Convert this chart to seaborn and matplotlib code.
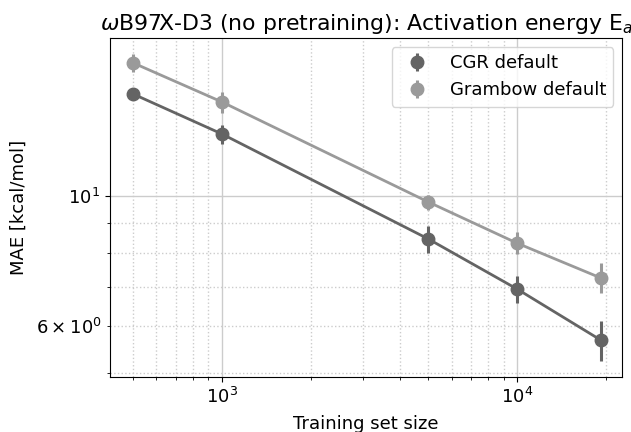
import matplotlib
matplotlib.use("Agg")
import matplotlib.pyplot as plt
import seaborn as sns
import numpy as np
import pandas as pd

train_sizes = [500, 1000, 5000, 10000, 19200]
cgr_mae = [14.93, 12.76, 8.45, 6.94, 5.68]
cgr_err = [0.25, 0.48, 0.45, 0.37, 0.45]
grambow_mae = [16.87, 14.47, 9.77, 8.31, 7.25]
grambow_err = [0.6, 0.6, 0.29, 0.36, 0.43]
series_names = ["CGR default", "Grambow default"]
colors = ["#646464", "#9a9a9a"]

df = pd.DataFrame({
    "size": train_sizes * 2,
    "mae": cgr_mae + grambow_mae,
    "model": [series_names[0]] * 5 + [series_names[1]] * 5,
})

fig = plt.figure(figsize=(6.31, 4.32), dpi=100)
ax = fig.add_axes([0.174, 0.127, 0.812, 0.785])

sns.lineplot(data=df, x="size", y="mae", hue="model", palette=colors,
             lw=2, legend=False, ax=ax)
for name, m, e, c in zip(series_names, [cgr_mae, grambow_mae],
                         [cgr_err, grambow_err], colors):
    ax.errorbar(train_sizes, m, yerr=e, fmt="o", color=c, ms=9,
                elinewidth=2.2, capsize=0, label=name, zorder=3)

ax.set_xscale("log")
ax.set_yscale("log")
ax.set_xlim(417, 22700)
ax.set_ylim(4.91, 18.6)

ax.grid(which="major", color="#cccccc", lw=1, ls="-")
ax.grid(which="minor", color="#cccccc", lw=1, ls=":")
ax.set_axisbelow(True)

ax.tick_params(labelsize=13)
ax.tick_params(which="minor", labelsize=13)
ax.set_xlabel("Training set size", fontsize=13, labelpad=6)
ax.set_ylabel("MAE [kcal/mol]", fontsize=13, labelpad=6)
ax.set_title(r"$\omega$B97X-D3 (no pretraining): Activation energy E$_a$", fontsize=15.8)
ax.legend(loc="upper right", fontsize=13)

fig.savefig("out.png", dpi=100)
